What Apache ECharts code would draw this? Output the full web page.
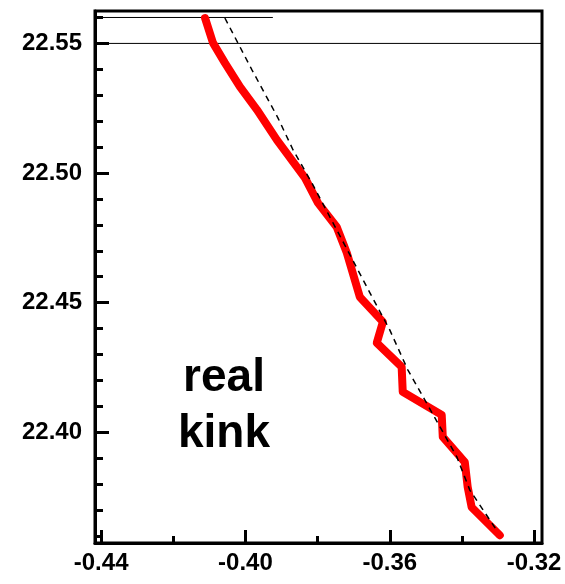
<!DOCTYPE html>
<html><head><meta charset="utf-8">
<script src="https://cdn.jsdelivr.net/npm/echarts@6/dist/echarts.min.js"></script>
<style>html,body{margin:0;padding:0;background:#fff}#c{width:565px;height:584px}</style>
</head><body><div id="c"></div>
<script>
var redX = [-0.4112,-0.4090,-0.4057,-0.4015,-0.3968,-0.3913,-0.3835,-0.3799,-0.3747,-0.3719,-0.3683,-0.3619,-0.3636,-0.3567,-0.3564,-0.3456,-0.3453,-0.3392,-0.3384,-0.3373,-0.3295];
var redY = [22.5598,22.5502,22.5425,22.5332,22.5244,22.5128,22.4981,22.4885,22.4792,22.4692,22.4522,22.4426,22.4345,22.4252,22.4156,22.4067,22.3982,22.3885,22.3789,22.3711,22.3603];
var dashX = [-0.4057,-0.3982,-0.3910,-0.3868,-0.3816,-0.3744,-0.3655,-0.3600,-0.3550,-0.3498,-0.3414,-0.3378,-0.3304];
var dashY = [22.5598,22.5398,22.5213,22.5089,22.4962,22.4773,22.4538,22.4395,22.4241,22.4113,22.3905,22.3777,22.3623];
var xMajor = [-0.44,-0.40,-0.36,-0.32];
var xMinor = [-0.42,-0.38,-0.34];
var yMajor = [22.40,22.45,22.50,22.55];
var yMinor = [22.36,22.37,22.38,22.39,22.41,22.42,22.43,22.44,22.46,22.47,22.48,22.49,22.51,22.52,22.53,22.54,22.56];
var xRange = [-0.4417,-0.3178];
var yRange = [22.3573,22.5625];
var hLineFull = {y: 22.55};
var hLineShort = {y: 22.56, xEnd: -0.3924};
var annotation = ['real','kink'];

function pairs(xs, ys){ return xs.map(function(x,i){ return [x, ys[i]]; }); }
var font = 'Liberation Sans, Arial, sans-serif';
var chart = echarts.init(document.getElementById('c'), null, {renderer:'canvas'});
var baseX = {type:'value', min:xRange[0], max:xRange[1], position:'bottom', splitLine:{show:false}};
var baseY = {type:'value', min:yRange[0], max:yRange[1], position:'left', splitLine:{show:false}};
chart.setOption({
  animation:false,
  grid:{left:95, right:23, top:11, bottom:41, show:true, borderColor:'#000', borderWidth:3, backgroundColor:'transparent'},
  xAxis:[
    Object.assign({}, baseX, {
      axisLine:{show:true, lineStyle:{color:'#000', width:3}},
      axisTick:{show:true, inside:true, length:13, lineStyle:{color:'#000', width:3}, customValues:xMajor},
      axisLabel:{show:true, customValues:xMajor, margin:8, color:'#000', fontFamily:font, fontWeight:'bold', fontSize:24,
        formatter:function(v){ return v.toFixed(2); }}
    }),
    Object.assign({}, baseX, {
      axisLine:{show:false},
      axisTick:{show:true, inside:true, length:7, lineStyle:{color:'#000', width:3}, customValues:xMinor},
      axisLabel:{show:false}
    })
  ],
  yAxis:[
    Object.assign({}, baseY, {
      axisLine:{show:true, lineStyle:{color:'#000', width:3}},
      axisTick:{show:true, inside:true, length:14, lineStyle:{color:'#000', width:3}, customValues:yMajor},
      axisLabel:{show:true, customValues:yMajor, margin:13, color:'#000', fontFamily:font, fontWeight:'bold', fontSize:24,
        formatter:function(v){ return v.toFixed(2); }}
    }),
    Object.assign({}, baseY, {
      axisLine:{show:false},
      axisTick:{show:true, inside:true, length:8, lineStyle:{color:'#000', width:3}, customValues:yMinor},
      axisLabel:{show:false}
    })
  ],
  series:[
    {type:'line', xAxisIndex:0, yAxisIndex:0, symbol:'none', silent:true,
      data:[[xRange[0], hLineFull.y],[xRange[1], hLineFull.y]], lineStyle:{color:'#000', width:1}},
    {type:'line', xAxisIndex:0, yAxisIndex:0, symbol:'none', silent:true,
      data:[[xRange[0], hLineShort.y],[hLineShort.xEnd, hLineShort.y]], lineStyle:{color:'#000', width:1}},
    {type:'line', xAxisIndex:0, yAxisIndex:0, symbol:'none', silent:true, z:3,
      data:pairs(redX, redY), lineStyle:{color:'#ff0000', width:8, cap:'round', join:'round'}},
    {type:'line', xAxisIndex:0, yAxisIndex:0, symbol:'none', silent:true, z:4,
      data:pairs(dashX, dashY), lineStyle:{color:'#000', width:1.5, type:[6,5]}}
  ],
  graphic:[
    {type:'text', style:{text:annotation[0], x:224, y:378, align:'center', verticalAlign:'middle', fontFamily:font, fontWeight:'bold', fontSize:46, fill:'#000'}},
    {type:'text', style:{text:annotation[1], x:224, y:434, align:'center', verticalAlign:'middle', fontFamily:font, fontWeight:'bold', fontSize:46, fill:'#000'}}
  ]
});
</script></body></html>
